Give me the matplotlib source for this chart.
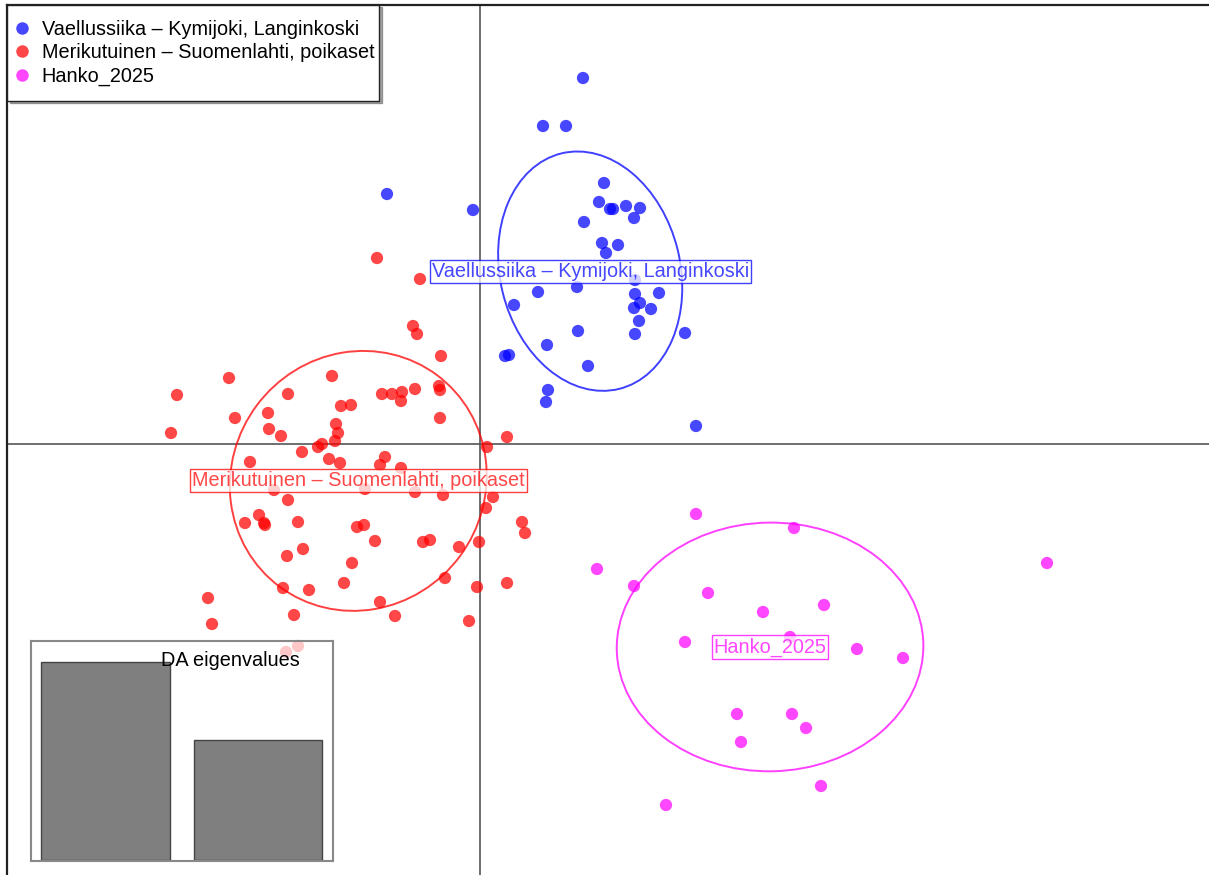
import matplotlib.pyplot as plt
import numpy as np
from matplotlib.patches import Ellipse, Rectangle, Shadow
from matplotlib.lines import Line2D

plt.rcParams["font.family"] = ["Liberation Sans", "DejaVu Sans"]

# discriminant function scores per group (LD1, LD2)
groups = [
    "Vaellussiika \u2013 Kymijoki, Langinkoski",
    "Merikutuinen \u2013 Suomenlahti, poikaset",
    "Hanko_2025",
]
colors = ["#0000FF", "#FF0000", "#FF00FF"]

vael_ld1 = [1.03, 0.63, 0.86, -0.93, -0.07, 1.24, 1.19, 1.30, 1.33, 1.46, 1.60, 1.54,
            1.04, 1.22, 1.38, 1.26, 1.55, 0.97, 0.58, 1.79, 1.55, 1.60, 1.54, 1.71,
            1.59, 0.34, 1.55, 2.05, 0.98, 0.67, 0.25, 0.29, 1.08, 0.68, 0.66, 2.16]
vael_ld2 = [3.66, 3.18, 3.18, 2.50, 2.34, 2.61, 2.42, 2.35, 2.35, 2.38, 2.36, 2.26,
            2.22, 2.01, 1.99, 1.91, 1.64, 1.57, 1.52, 1.51, 1.50, 1.41, 1.36, 1.35,
            1.23, 1.39, 1.10, 1.11, 1.13, 0.99, 0.88, 0.89, 0.78, 0.54, 0.42, 0.18]

meri_ld1 = [-1.03, -0.60, -0.67, -0.63, -0.39, -2.51, -3.03, -1.48, -1.92, -0.98, -0.88,
            -0.78, -0.79, -0.65, -0.41, -0.40, -0.40, -2.45, -2.12, -1.39, -1.29, -3.09,
            -2.11, -1.99, -1.44, -1.42, -1.45, -1.58, -1.62, 0.27, 0.07, -1.78, -1.51,
            -1.40, -2.30, -0.95, -1.00, -0.79, 0.13, 0.06, -1.92, -0.37, -0.65, -1.15,
            -2.06, -2.21, -2.16, -2.15, -2.35, -1.82, -1.23, -1.16, -1.05, -0.57, -0.50,
            -0.21, -0.01, 0.42, 0.45, -1.93, -1.77, -1.28, -1.36, -0.35, -0.03, 0.27,
            -1.97, -1.71, -1.00, -2.72, -2.68, -1.86, -0.85, -0.11, -1.94, -1.82]
meri_ld2 = [1.86, 1.65, 1.18, 1.10, 0.88, 0.66, 0.49, 0.68, 0.50, 0.50, 0.50,
            0.52, 0.43, 0.55, 0.58, 0.54, 0.26, 0.26, 0.31, 0.38, 0.39, 0.11,
            0.15, 0.08, 0.20, 0.11, 0.03, 0.00, -0.03, 0.07, -0.03, -0.08, -0.15,
            -0.19, -0.18, -0.13, -0.21, -0.24, -0.53, -0.64, -0.56, -0.51, -0.48, -0.45,
            -0.46, -0.71, -0.79, -0.81, -0.79, -0.78, -0.83, -0.81, -0.97, -0.98, -0.96,
            -1.03, -0.98, -0.78, -0.89, -1.12, -1.05, -1.19, -1.39, -1.34, -1.43, -1.39,
            -1.44, -1.46, -1.58, -1.54, -1.80, -1.71, -1.72, -1.77, -2.08, -2.02]

hanko_ld1 = [2.16, 3.14, 1.17, 1.54, 5.67, 2.28, 2.83, 3.44, 2.05, 3.10, 3.77, 4.23,
             2.57, 3.12, 3.26, 2.61, 3.41, 1.86]
hanko_ld2 = [-0.70, -0.84, -1.25, -1.42, -1.19, -1.49, -1.68, -1.61, -1.98, -1.93, -2.05,
             -2.14, -2.70, -2.70, -2.84, -2.98, -3.42, -3.61]

eigenvalues = [128.6, 77.6]

ld1 = [vael_ld1, meri_ld1, hanko_ld1]
ld2 = [vael_ld2, meri_ld2, hanko_ld2]

fig = plt.figure(figsize=(12.09, 8.75), dpi=100)
ax = fig.add_axes([7 / 1209, 0, 1 - 7 / 1209, 1 - 5 / 875])
ax.set_xlim(-4.73, 7.29)
ax.set_ylim(-4.31, 4.39)
ax.set_xticks([])
ax.set_yticks([])
for side in ["right", "bottom"]:
    ax.spines[side].set_visible(False)
for side in ["left", "top"]:
    ax.spines[side].set_linewidth(1.6)
    ax.spines[side].set_color("#222222")

ax.axhline(0, color="#555555", lw=1.2, zorder=1)
ax.axvline(0, color="#555555", lw=1.2, zorder=1)

cellipse = 1.5
for x, y, col, name in zip(ld1, ld2, colors, groups):
    x = np.array(x)
    y = np.array(y)
    ax.scatter(x, y, s=78, color=col, alpha=0.72, edgecolors="none", zorder=2)

    # inertia ellipse from the group covariance
    cov = np.cov(np.vstack([x, y]), bias=True)
    vals, vecs = np.linalg.eigh(cov)
    angle = np.degrees(np.arctan2(vecs[1, 1], vecs[0, 1]))
    ell = Ellipse((x.mean(), y.mean()), 2 * cellipse * np.sqrt(vals[1]),
                  2 * cellipse * np.sqrt(vals[0]), angle=angle,
                  fill=False, edgecolor=col, alpha=0.75, lw=1.4, zorder=3)
    ax.add_patch(ell)

    ax.text(x.mean(), y.mean(), name, color=col, alpha=0.72, fontsize=14.3,
            ha="center", va="center", zorder=5,
            bbox=dict(boxstyle="square,pad=0.1", facecolor="white",
                      edgecolor=col, lw=1.0, alpha=0.75))

# legend box, snug on the right like base R legends
box = Rectangle((0, 1 - 96 / 870), 372 / 1202, 96 / 870, transform=ax.transAxes,
                facecolor="white", edgecolor="#222222", lw=1.0, zorder=9)
ax.add_patch(Shadow(box, 0.0015, -0.002, zorder=8.9))
ax.add_patch(box)

handles = [Line2D([], [], marker="o", ls="none", color=c, alpha=0.72,
                  markersize=9, markeredgewidth=0) for c in colors]
leg = ax.legend(handles, groups, loc="upper left", bbox_to_anchor=(0, 1),
                borderaxespad=0, fontsize=14.3, frameon=False, handlelength=0,
                handletextpad=1.0, labelspacing=0.22, borderpad=0.75)
leg.set_zorder(10)

# eigenvalue inset
ins = fig.add_axes([31 / 1209, 1 - 861 / 875, 302 / 1209, 220 / 875])
ins.patch.set_facecolor("white")
ins.patch.set_alpha(0.7)
ins.bar([0, 1], eigenvalues, width=0.843, color="#7f7f7f",
        edgecolor="#444444", lw=1.0)
ins.set_xlim(-0.488, 1.493)
ins.set_ylim(-eigenvalues[0] / 199, eigenvalues[0] * 220 / 199)
ins.set_xticks([])
ins.set_yticks([])
for sp in ins.spines.values():
    sp.set_color("#888888")
    sp.set_linewidth(1.5)
ins.text(0.66, 0.91, "DA eigenvalues", transform=ins.transAxes, ha="center",
         va="center", fontsize=14.3, color="black")

fig.savefig("out.png", dpi=100)
